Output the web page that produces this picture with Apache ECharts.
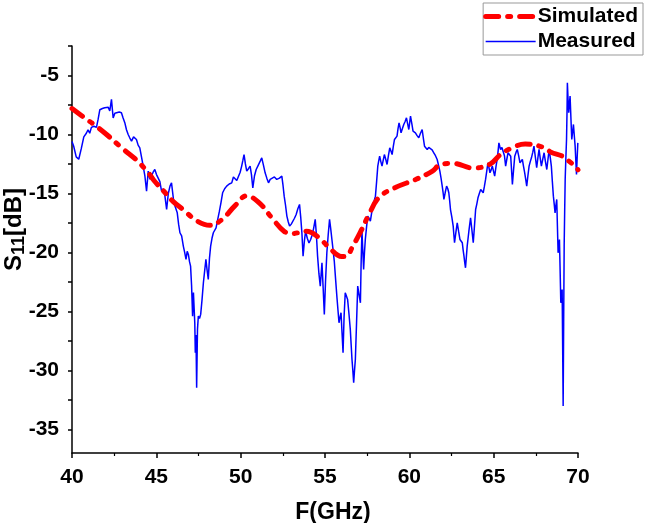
<!DOCTYPE html>
<html>
<head>
<meta charset="utf-8">
<title>S11 simulated vs measured</title>
<script src="https://cdn.jsdelivr.net/npm/echarts@6/dist/echarts.min.js"></script>
<style>
  html, body { margin: 0; padding: 0; background: #fff; }
  #chart { width: 645px; height: 523px; }
</style>
</head>
<body>
<div id="chart"></div>
<script>
// tick labels / tick positions on the y axis
const yLabelValues = [-35, -30, -25, -20, -15, -10, -5];
const yTickValues = [-35, -32.5, -30, -27.5, -25, -22.5, -20, -17.5, -15, -12.5, -10, -7.5, -5, -2.5];

// simulated S11 [GHz, dB]
const simulated = [
  [40, -7.8], [40.85, -8.7], [41.3, -9.15], [42.05, -10.0], [43.0, -11.2], [43.77, -12.1],
  [44.5, -13.2], [44.86, -13.9], [45.5, -14.9], [45.97, -15.65], [46.58, -16.36], [47.44, -17.35],
  [48.17, -17.7], [48.9, -17.2], [49.64, -16.07], [50.37, -15.2], [51.1, -15.8], [51.84, -17.05],
  [52.57, -18.2], [53.05, -18.4], [53.9, -18.2], [54.64, -18.74], [55.25, -19.6], [55.99, -20.35],
  [56.3, -20.3], [56.6, -19.6], [57.09, -18.3], [57.57, -16.9], [58.19, -15.35], [59.17, -14.5],
  [60.4, -13.8], [61.37, -13.1], [61.85, -12.54], [62.6, -12.45], [63.8, -12.85], [64.8, -12.5],
  [65.4, -11.7], [66.0, -11.2], [66.87, -10.8], [67.97, -11.1], [68.4, -11.5], [69.07, -11.84],
  [69.5, -12.3], [69.9, -12.8], [70, -13.0]
];

// measured S11 [GHz, dB]
const measured = [
  [40.0, -10.6], [40.1, -11.0], [40.25, -11.9], [40.4, -12.1], [40.55, -11.2], [40.7, -10.2],
  [40.85, -9.9], [40.95, -9.6], [41.05, -9.9], [41.15, -9.4], [41.3, -9.3], [41.45, -9.4],
  [41.55, -8.7], [41.65, -7.9], [41.8, -7.8], [41.94, -7.74], [42.05, -7.9], [42.15, -7.7],
  [42.24, -8.0], [42.34, -7.03], [42.44, -8.6], [42.54, -8.2], [42.64, -8.3], [42.8, -8.1],
  [42.93, -8.16], [43.03, -8.6], [43.13, -9.0], [43.23, -9.6], [43.33, -10.0], [43.43, -10.3],
  [43.53, -10.56], [43.65, -10.2], [43.82, -10.42], [43.92, -10.9], [44.02, -11.13], [44.12, -11.9],
  [44.22, -12.68], [44.32, -13.5], [44.42, -14.8], [44.52, -13.1], [44.62, -13.8], [44.72, -13.67],
  [44.81, -13.2], [44.91, -12.97], [45.01, -13.4], [45.11, -13.25], [45.21, -14.0], [45.31, -14.8],
  [45.41, -14.6], [45.51, -15.23], [45.61, -16.36], [45.71, -15.0], [45.81, -14.38], [45.9, -14.1],
  [46.04, -15.79], [46.14, -15.9], [46.24, -16.64], [46.32, -17.6], [46.4, -18.33], [46.5, -18.6],
  [46.6, -19.46], [46.68, -20.0], [46.76, -20.59], [46.83, -19.9], [46.9, -20.17], [46.97, -20.8],
  [47.03, -21.16], [47.09, -22.8], [47.15, -25.4], [47.2, -23.4], [47.25, -23.42], [47.28, -26.0],
  [47.31, -28.5], [47.35, -27.0], [47.39, -31.47], [47.44, -26.5], [47.49, -25.4], [47.56, -25.6],
  [47.63, -25.25], [47.71, -24.0], [47.79, -22.57], [47.87, -21.5], [47.94, -20.59], [48.01, -21.5],
  [48.08, -22.29], [48.15, -20.5], [48.22, -19.46], [48.3, -18.8], [48.38, -18.33], [48.46, -18.2],
  [48.54, -17.91], [48.64, -17.2], [48.74, -16.5], [48.83, -15.8], [48.93, -14.94], [49.05, -14.6],
  [49.17, -14.38], [49.32, -14.2], [49.47, -14.1], [49.57, -13.6], [49.67, -13.53], [49.77, -13.9],
  [49.87, -13.81], [49.97, -13.2], [50.06, -12.68], [50.13, -12.2], [50.2, -11.7], [50.28, -12.5],
  [50.36, -13.1], [50.46, -12.9], [50.56, -12.68], [50.64, -13.4], [50.72, -14.52], [50.82, -13.5],
  [50.92, -12.97], [51.01, -12.7], [51.11, -12.54], [51.18, -12.2], [51.25, -11.98], [51.35, -12.6],
  [51.45, -13.25], [51.55, -13.7], [51.65, -14.1], [51.75, -13.8], [51.85, -13.95], [52.0, -13.6],
  [52.14, -13.81], [52.3, -13.7], [52.44, -13.53], [52.51, -14.3], [52.58, -15.23], [52.66, -16.0],
  [52.74, -16.92], [52.82, -17.4], [52.9, -17.77], [53.0, -17.6], [53.09, -17.49], [53.19, -17.1],
  [53.29, -16.78], [53.39, -16.3], [53.49, -15.93], [53.56, -17.0], [53.63, -18.33], [53.7, -20.31],
  [53.78, -19.0], [53.85, -18.2], [53.95, -18.8], [54.05, -19.2], [54.15, -18.9], [54.22, -18.6],
  [54.32, -18.0], [54.42, -17.2], [54.49, -18.5], [54.56, -20.31], [54.64, -21.8], [54.72, -22.85],
  [54.82, -20.87], [54.89, -23.0], [54.96, -25.25], [55.03, -22.5], [55.11, -20.03], [55.19, -18.5],
  [55.27, -17.2], [55.34, -18.0], [55.41, -18.9], [55.48, -19.8], [55.55, -20.73], [55.63, -22.3],
  [55.71, -23.84], [55.77, -24.9], [55.83, -25.96], [55.89, -25.5], [55.95, -25.11], [56.01, -26.8],
  [56.07, -28.5], [56.13, -25.5], [56.2, -23.42], [56.27, -23.7], [56.34, -23.98], [56.42, -25.2],
  [56.5, -26.52], [56.55, -27.8], [56.6, -29.07], [56.65, -30.0], [56.7, -31.05], [56.75, -30.0],
  [56.8, -29.07], [56.87, -26.0], [56.94, -22.85], [57.02, -23.6], [57.1, -24.27], [57.14, -21.0],
  [57.19, -18.19], [57.24, -19.8], [57.29, -21.44], [57.34, -20.0], [57.39, -18.9], [57.46, -17.9],
  [57.53, -16.92], [57.61, -17.1], [57.69, -17.35], [57.77, -16.6], [57.85, -15.93], [57.92, -15.6],
  [57.99, -15.23], [58.06, -14.0], [58.13, -12.68], [58.19, -12.2], [58.24, -11.84], [58.31, -12.3],
  [58.38, -12.68], [58.45, -12.2], [58.52, -11.7], [58.6, -12.1], [58.68, -12.54], [58.76, -11.8],
  [58.84, -11.13], [58.91, -11.4], [58.98, -11.7], [59.05, -11.0], [59.12, -10.42], [59.2, -10.3],
  [59.27, -10.14], [59.33, -9.5], [59.39, -9.01], [59.45, -9.4], [59.51, -9.86], [59.59, -9.5],
  [59.67, -9.15], [59.75, -8.9], [59.83, -8.59], [59.9, -9.1], [59.97, -9.58], [60.02, -9.0],
  [60.07, -8.45], [60.15, -9.1], [60.22, -9.72], [60.29, -9.8], [60.36, -9.86], [60.46, -10.1],
  [60.56, -10.28], [60.66, -9.9], [60.76, -9.58], [60.83, -10.3], [60.9, -10.99], [60.98, -11.1],
  [61.06, -11.27], [61.15, -11.1], [61.25, -10.99], [61.35, -11.3], [61.45, -11.55], [61.55, -11.8],
  [61.65, -12.12], [61.73, -12.6], [61.81, -13.11], [61.88, -13.7], [61.95, -14.38], [62.0, -14.9],
  [62.05, -15.51], [62.13, -14.9], [62.21, -14.38], [62.28, -14.6], [62.34, -14.94], [62.39, -15.6],
  [62.44, -16.36], [62.52, -17.0], [62.6, -17.77], [62.64, -18.5], [62.68, -19.18], [62.76, -18.3],
  [62.84, -17.49], [62.92, -18.2], [63.0, -18.9], [63.07, -19.0], [63.14, -19.18], [63.19, -19.8],
  [63.24, -20.31], [63.28, -20.8], [63.33, -21.3], [63.38, -20.4], [63.43, -19.46], [63.53, -18.2],
  [63.63, -17.06], [63.71, -18.1], [63.79, -19.18], [63.86, -17.8], [63.93, -16.36], [64.0, -15.9],
  [64.07, -15.37], [64.15, -15.0], [64.23, -14.66], [64.3, -14.8], [64.38, -14.94], [64.45, -14.4],
  [64.52, -13.81], [64.59, -13.1], [64.66, -12.4], [64.72, -12.8], [64.78, -13.25], [64.85, -13.0],
  [64.92, -12.68], [64.99, -13.1], [65.06, -13.53], [65.14, -12.7], [65.22, -11.98], [65.27, -11.3],
  [65.31, -10.71], [65.36, -11.0], [65.41, -11.27], [65.49, -11.1], [65.57, -10.99], [65.64, -11.8],
  [65.71, -12.68], [65.78, -12.1], [65.85, -11.55], [65.93, -11.7], [66.01, -11.84], [66.06, -13.0],
  [66.11, -14.24], [66.18, -13.0], [66.25, -11.84], [66.33, -11.5], [66.4, -11.27], [66.48, -11.8],
  [66.56, -12.4], [66.63, -12.3], [66.7, -12.12], [66.77, -12.7], [66.84, -13.25], [66.9, -13.8],
  [66.96, -14.38], [67.03, -13.5], [67.1, -12.68], [67.17, -12.3], [67.24, -11.98], [67.32, -11.5],
  [67.39, -10.99], [67.47, -11.9], [67.55, -12.82], [67.62, -12.0], [67.69, -11.27], [67.76, -12.0],
  [67.83, -12.68], [67.91, -12.1], [67.99, -11.55], [68.07, -12.3], [68.15, -12.97], [68.22, -12.1],
  [68.29, -11.27], [68.36, -12.0], [68.42, -12.68], [68.48, -14.0], [68.54, -15.23], [68.59, -15.9],
  [68.64, -16.64], [68.69, -16.0], [68.74, -15.51], [68.78, -17.8], [68.82, -20.03], [68.86, -19.5],
  [68.9, -18.9], [68.94, -21.5], [68.98, -24.27], [69.02, -23.7], [69.06, -23.14], [69.09, -28.0],
  [69.12, -33.02], [69.15, -26.0], [69.18, -19.46], [69.21, -16.5], [69.24, -13.81], [69.28, -12.0],
  [69.32, -10.42], [69.35, -8.0], [69.37, -5.62], [69.41, -7.0], [69.45, -8.16], [69.49, -7.4],
  [69.53, -6.75], [69.58, -8.6], [69.63, -10.42], [69.68, -9.8], [69.73, -9.15], [69.78, -10.1],
  [69.83, -10.99], [69.87, -12.2], [69.91, -13.39], [69.95, -12.0], [69.99, -10.71]
];

const chart = echarts.init(document.getElementById('chart'));
const font = '"Liberation Sans", Arial, sans-serif';

chart.setOption({
  animation: false,
  backgroundColor: '#fff',
  grid: { left: 72, right: 67, top: 46, bottom: 70, containLabel: false, outerBoundsMode: 'none' },
  legend: {
    orient: 'vertical',
    right: 2,
    top: 3,
    padding: [3, 5, 3, 0],
    itemGap: 4,
    itemWidth: 50,
    itemHeight: 18,
    borderColor: '#999',
    borderWidth: 1,
    itemStyle: { opacity: 0 },
    textStyle: { fontFamily: font, fontWeight: 'bold', fontSize: 21, color: '#000', padding: [0, 0, 0, -3] },
    data: [
      { name: 'Simulated', lineStyle: { width: 5 } },
      { name: 'Measured', lineStyle: { width: 1.5 } }
    ]
  },
  xAxis: {
    type: 'value',
    min: 40,
    max: 70,
    interval: 5,
    name: 'F(GHz)',
    nameLocation: 'middle',
    nameGap: 48,
    nameMoveOverlap: false,
    nameTextStyle: { fontFamily: font, fontWeight: 'bold', fontSize: 23, color: '#000', padding: [0, 0, 0, 16] },
    axisLine: { lineStyle: { color: '#000', width: 1.5 } },
    axisTick: { inside: false, length: 5, lineStyle: { color: '#000', width: 1.5 } },
    minorTick: { show: true, splitNumber: 2, length: 3, lineStyle: { color: '#000', width: 1.2 } },
    axisLabel: { margin: 14, fontFamily: font, fontWeight: 'bold', fontSize: 21, color: '#000' },
    splitLine: { show: false }
  },
  yAxis: {
    type: 'value',
    min: -37,
    max: -2.5,
    name: 'S{sub|11}[dB]',
    nameLocation: 'middle',
    nameGap: 44,
    nameRotate: 90,
    nameMoveOverlap: false,
    nameTextStyle: {
      fontFamily: font, fontWeight: 'bold', fontSize: 24, color: '#000', padding: [0, 0, 0, 40],
      rich: { sub: { fontFamily: font, fontWeight: 'bold', fontSize: 18, color: '#000', verticalAlign: 'bottom', padding: [10, 0, 0, 0] } }
    },
    axisLine: { lineStyle: { color: '#000', width: 1.5 } },
    axisTick: { inside: false, length: 4, customValues: yTickValues, lineStyle: { color: '#000', width: 1.5 } },
    axisLabel: { margin: 13, customValues: yLabelValues, fontFamily: font, fontWeight: 'bold', fontSize: 21, color: '#000' },
    splitLine: { show: false }
  },
  series: [
    {
      name: 'Simulated',
      type: 'line',
      data: simulated,
      smooth: 0.4,
      showSymbol: false,
      symbol: 'none',
      z: 3,
      lineStyle: { color: '#ff0000', width: 5, type: [13, 9, 3, 9], cap: 'round' },
      itemStyle: { color: '#ff0000' }
    },
    {
      name: 'Measured',
      type: 'line',
      data: measured,
      showSymbol: false,
      symbol: 'none',
      z: 2,
      lineStyle: { color: '#0000ff', width: 1.5 },
      itemStyle: { color: '#0000ff' }
    }
  ]
});
</script>
</body>
</html>
